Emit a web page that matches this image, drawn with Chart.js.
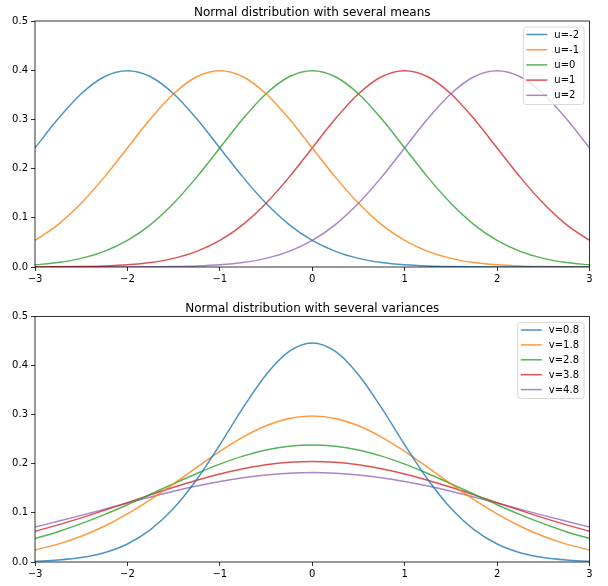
<!DOCTYPE html>
<html><head><meta charset="utf-8">
<script src="https://cdn.jsdelivr.net/npm/chart.js@4/dist/chart.umd.min.js"></script>
<style>
html,body{margin:0;padding:0;background:#fff;width:608px;height:586px;overflow:hidden}
.wrap{position:absolute;left:0;width:608px;height:293px}
canvas{display:block}
</style></head><body>
<div class="wrap" style="top:0"><canvas id="c1" width="608" height="293"></canvas></div>
<div class="wrap" style="top:293px"><canvas id="c2" width="608" height="293"></canvas></div>
<script>
// ---- data ----
const xValues = [-3,-2.75,-2.5,-2.25,-2,-1.75,-1.5,-1.25,-1,-0.75,-0.5,-0.25,0,0.25,0.5,0.75,1,1.25,1.5,1.75,2,2.25,2.5,2.75,3];
const xTickLabels = ['\u22123','\u22122','\u22121','0','1','2','3'];
const yTickLabels = ['0.0','0.1','0.2','0.3','0.4','0.5'];

const titleMeans = 'Normal distribution with several means';
const titleVars = 'Normal distribution with several variances';

const meanLabels = ['u=-2','u=-1','u=0','u=1','u=2'];
const meanM2 = [0.24197,0.30114,0.35207,0.38667,0.39894,0.38667,0.35207,0.30114,0.24197,0.18265,0.12952,0.08628,0.05399,0.03174,0.01753,0.00909,0.00443,0.00203,0.00087,0.00035,0.00013,0.00005,0.00002,0.00001,0.00000];
const meanM1 = [0.05399,0.08628,0.12952,0.18265,0.24197,0.30114,0.35207,0.38667,0.39894,0.38667,0.35207,0.30114,0.24197,0.18265,0.12952,0.08628,0.05399,0.03174,0.01753,0.00909,0.00443,0.00203,0.00087,0.00035,0.00013];
const mean0 = [0.00443,0.00909,0.01753,0.03174,0.05399,0.08628,0.12952,0.18265,0.24197,0.30114,0.35207,0.38667,0.39894,0.38667,0.35207,0.30114,0.24197,0.18265,0.12952,0.08628,0.05399,0.03174,0.01753,0.00909,0.00443];
const meanP1 = [0.00013,0.00035,0.00087,0.00203,0.00443,0.00909,0.01753,0.03174,0.05399,0.08628,0.12952,0.18265,0.24197,0.30114,0.35207,0.38667,0.39894,0.38667,0.35207,0.30114,0.24197,0.18265,0.12952,0.08628,0.05399];
const meanP2 = [0.00000,0.00001,0.00002,0.00005,0.00013,0.00035,0.00087,0.00203,0.00443,0.00909,0.01753,0.03174,0.05399,0.08628,0.12952,0.18265,0.24197,0.30114,0.35207,0.38667,0.39894,0.38667,0.35207,0.30114,0.24197];

const varLabels = ['v=0.8','v=1.8','v=2.8','v=3.8','v=4.8'];
const var08 = [0.00161,0.00395,0.00897,0.01884,0.03661,0.06578,0.10931,0.16798,0.23874,0.31380,0.38151,0.42894,0.44603,0.42894,0.38151,0.31380,0.23874,0.16798,0.10931,0.06578,0.03661,0.01884,0.00897,0.00395,0.00161];
const var18 = [0.02441,0.03639,0.05239,0.07287,0.09789,0.12701,0.15916,0.19266,0.22523,0.25434,0.27740,0.29223,0.29735,0.29223,0.27740,0.25434,0.22523,0.19266,0.15916,0.12701,0.09789,0.07287,0.05239,0.03639,0.02441];
const var28 = [0.04779,0.06178,0.07810,0.09655,0.11672,0.13799,0.15953,0.18037,0.19943,0.21563,0.22801,0.23577,0.23842,0.23577,0.22801,0.21563,0.19943,0.18037,0.15953,0.13799,0.11672,0.09655,0.07810,0.06178,0.04779];
const var38 = [0.06262,0.07566,0.08992,0.10513,0.12090,0.13678,0.15221,0.16662,0.17942,0.19005,0.19803,0.20297,0.20465,0.20297,0.19803,0.19005,0.17942,0.16662,0.15221,0.13678,0.12090,0.10513,0.08992,0.07566,0.06262];
const var48 = [0.07131,0.08283,0.09496,0.10747,0.12004,0.13236,0.14405,0.15474,0.16408,0.17173,0.17741,0.18091,0.18209,0.18091,0.17741,0.17173,0.16408,0.15474,0.14405,0.13236,0.12004,0.10747,0.09496,0.08283,0.07131];

// ---- styling ----
const colors = ['rgba(31,119,180,0.8)','rgba(255,127,14,0.8)','rgba(44,160,44,0.8)','rgba(214,39,40,0.8)','rgba(148,103,189,0.8)'];
const FONT = "'DejaVu Sans', sans-serif";

const framePlugin = {
  id: 'frameAndLegend',
  afterDraw(chart, args, opts) {
    const ctx = chart.ctx, a = chart.chartArea;
    ctx.save();
    // spines
    ctx.strokeStyle = '#000'; ctx.lineWidth = 0.8;
    ctx.strokeRect(a.left, a.top, a.right - a.left, a.bottom - a.top);
    // title
    ctx.fillStyle = '#000';
    ctx.font = '12px ' + FONT;
    ctx.textAlign = 'center'; ctx.textBaseline = 'alphabetic';
    ctx.fillText(opts.title, (a.left + a.right) / 2, a.top - 5);
    // legend
    ctx.font = '10px ' + FONT;
    const ds = chart.data.datasets;
    let tw = 0;
    ds.forEach(d => { tw = Math.max(tw, ctx.measureText(d.label).width); });
    const w = 4 + 20 + 8 + tw + 4, rowH = opts.rowH, h = ds.length * rowH + 1.5;
    const right = a.right - 5.5, top = a.top + 6;
    const left = right - w;
    ctx.beginPath();
    if (ctx.roundRect) ctx.roundRect(left, top, w, h, 2.5); else ctx.rect(left, top, w, h);
    ctx.fillStyle = 'rgba(255,255,255,0.8)'; ctx.fill();
    ctx.strokeStyle = '#d9d9d9'; ctx.lineWidth = 1; ctx.stroke();
    ctx.textAlign = 'left'; ctx.textBaseline = 'middle';
    ds.forEach((d, i) => {
      const cy = top + 7.5 + i * rowH;
      ctx.strokeStyle = d.borderColor; ctx.lineWidth = 1.5;
      ctx.beginPath(); ctx.moveTo(left + 3, cy); ctx.lineTo(left + 24, cy); ctx.stroke();
      ctx.fillStyle = '#000';
      ctx.fillText(d.label, left + 31, cy + 0.5);
    });
    ctx.restore();
  }
};

function makeChart(id, title, labels, series, topPad, xAxisH, rowH) {
  const datasets = series.map((arr, i) => ({
    label: labels[i],
    data: xValues.map((x, j) => ({ x: x, y: arr[j] })),
    borderColor: colors[i],
    backgroundColor: colors[i],
    borderWidth: 1.5,
    pointRadius: 0,
    cubicInterpolationMode: 'monotone',
    fill: false
  }));
  return new Chart(document.getElementById(id), {
    type: 'line',
    data: { datasets },
    plugins: [framePlugin],
    options: {
      responsive: false,
      animation: false,
      events: [],
      layout: { padding: { top: topPad, right: 18.5, left: 0, bottom: 0 } },
      plugins: {
        legend: { display: false },
        title: { display: false },
        tooltip: { enabled: false },
        frameAndLegend: { title: title, rowH: rowH }
      },
      scales: {
        x: {
          type: 'linear', min: -3, max: 3,
          ticks: {
            stepSize: 1, autoSkip: false, maxRotation: 0, padding: 2,
            color: '#000', font: { family: FONT, size: 10 },
            callback: v => xTickLabels[Math.round(v + 3)]
          },
          grid: { drawOnChartArea: false, drawTicks: true, tickLength: 4, color: '#000', lineWidth: 0.8 },
          border: { display: false },
          afterFit: s => { s.height = xAxisH; }
        },
        y: {
          type: 'linear', min: 0, max: 0.5,
          ticks: {
            stepSize: 0.1, autoSkip: false, padding: 3,
            color: '#000', font: { family: FONT, size: 10 },
            callback: v => yTickLabels[Math.round(v * 10)]
          },
          grid: { drawOnChartArea: false, drawTicks: true, tickLength: 4, color: '#000', lineWidth: 0.8 },
          border: { display: false },
          afterFit: s => { s.width = 35; }
        }
      }
    }
  });
}

makeChart('c1', titleMeans, meanLabels, [meanM2, meanM1, mean0, meanP1, meanP2], 21, 26, 15.2);
makeChart('c2', titleVars, varLabels, [var08, var18, var28, var38, var48], 23.5, 24, 14.9);
</script>
</body></html>
